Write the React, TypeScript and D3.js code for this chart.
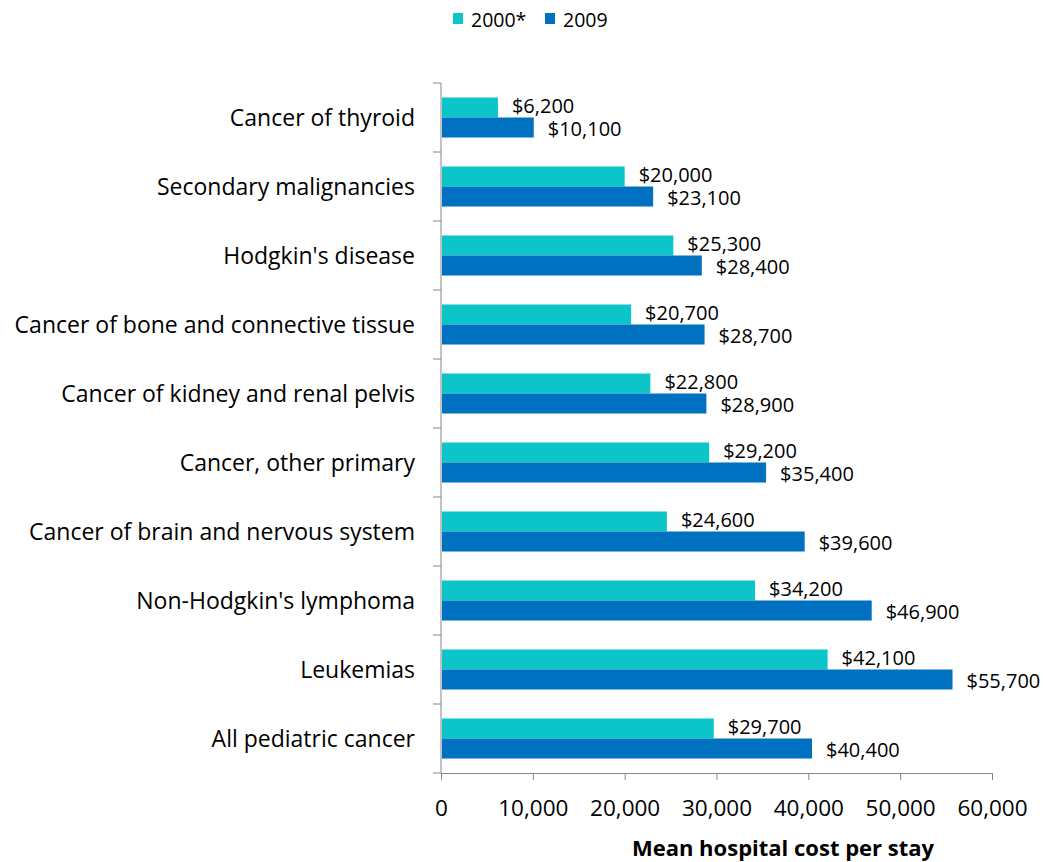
import React, { useEffect, useRef } from 'react';
import * as d3 from 'd3';

const categories = [
  'Cancer of thyroid',
  'Secondary malignancies',
  "Hodgkin's disease",
  'Cancer of bone and connective tissue',
  'Cancer of kidney and renal pelvis',
  'Cancer, other primary',
  'Cancer of brain and nervous system',
  "Non-Hodgkin's lymphoma",
  'Leukemias',
  'All pediatric cancer',
];
const values2000 = [6200, 20000, 25300, 20700, 22800, 29200, 24600, 34200, 42100, 29700];
const values2009 = [10100, 23100, 28400, 28700, 28900, 35400, 39600, 46900, 55700, 40400];
const seriesNames = ['2000*', '2009'];
const xTicks = [0, 10000, 20000, 30000, 40000, 50000, 60000];

const colors = ['#0BC5C9', '#0070C0'];
const font = "'Open Sans', sans-serif";

export default function App() {
  const ref = useRef<SVGSVGElement>(null);

  useEffect(() => {
    document.body.style.margin = '0';
    document.body.style.overflow = 'hidden';
    const svg = d3.select(ref.current);
    svg.selectAll('*').remove();

    const left = 441, right = 992, top = 83, bottom = 773;
    const x = d3.scaleLinear().domain([0, 60000]).range([left, right]);
    const y = d3.scaleBand().domain(categories).range([top, bottom]).paddingInner(0.42).paddingOuter(0.21);
    const inner = d3.scaleBand().domain(seriesNames).range([0, y.bandwidth()]);
    const axisColor = '#868686';

    // x axis
    const xAxis = svg.append('g').attr('transform', `translate(0,${bottom})`)
      .call(d3.axisBottom(x).tickValues(xTicks).tickSize(7).tickFormat(d3.format(',')));
    xAxis.select('.domain').attr('stroke', axisColor);
    xAxis.selectAll('.tick line').attr('stroke', axisColor);
    xAxis.selectAll('.tick text')
      .attr('font-family', font).attr('font-size', 22.5).attr('fill', '#000').attr('y', 43).attr('dy', 0);

    // y axis line + ticks at band boundaries
    svg.append('line').attr('x1', left).attr('x2', left).attr('y1', top).attr('y2', bottom)
      .attr('stroke', axisColor);
    const step = y.step();
    d3.range(categories.length + 1).forEach(i => {
      svg.append('line').attr('x1', left - 8).attr('x2', left)
        .attr('y1', top + i * step).attr('y2', top + i * step).attr('stroke', axisColor);
    });

    // category labels
    svg.append('g').selectAll('text').data(categories).enter().append('text')
      .attr('x', 415).attr('y', d => (y(d) as number) + y.bandwidth() / 2)
      .attr('dy', '0.35em').attr('text-anchor', 'end')
      .attr('font-family', font).attr('font-size', 23).attr('fill', '#000')
      .text(d => d);

    const series = [values2000, values2009];
    series.forEach((vals, si) => {
      const g = svg.append('g');
      g.selectAll('rect').data(vals).enter().append('rect')
        .attr('x', x(0) + 1)
        .attr('y', (d, i) => (y(categories[i]) as number) + (inner(seriesNames[si]) as number))
        .attr('width', d => x(d) - x(0) - 1)
        .attr('height', inner.bandwidth())
        .attr('fill', colors[si]);
      g.selectAll('text').data(vals).enter().append('text')
        .attr('x', d => x(d) + 14)
        .attr('y', (d, i) => (y(categories[i]) as number) + (inner(seriesNames[si]) as number) + inner.bandwidth() / 2 + (si === 0 ? -1 : 1))
        .attr('dy', '0.35em')
        .attr('font-family', font).attr('font-size', 20).attr('fill', '#000')
        .text(d => '$' + d3.format(',')(d));
    });

    // legend
    const legend = svg.append('g');
    const legendX = [453, 545];
    seriesNames.forEach((n, i) => {
      legend.append('rect').attr('x', legendX[i]).attr('y', 13).attr('width', 10).attr('height', 11)
        .attr('fill', colors[i]);
      legend.append('text').attr('x', legendX[i] + 18).attr('y', 27)
        .attr('font-family', font).attr('font-size', 19.5).attr('fill', '#000').text(n);
    });

    // axis title
    svg.append('text').attr('x', 783).attr('y', 856).attr('text-anchor', 'middle')
      .attr('font-family', font).attr('font-size', 22).attr('font-weight', 'bold').attr('fill', '#000')
      .text('Mean hospital cost per stay');
  }, []);

  return (
    <div>
      <svg ref={ref} width={1044} height={862} style={{ display: 'block', background: '#fff' }} />
    </div>
  );
}
